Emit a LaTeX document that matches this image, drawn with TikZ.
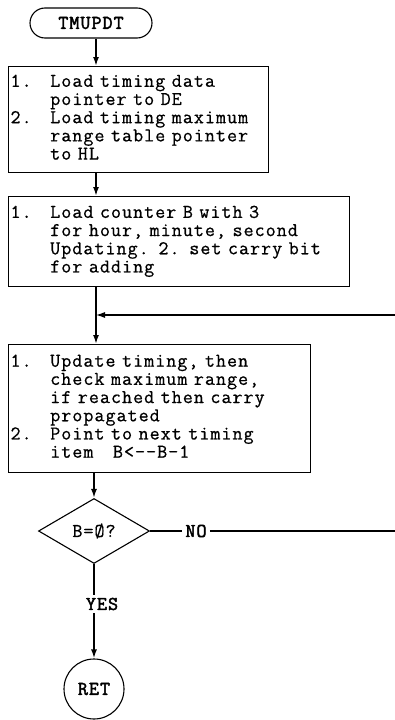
\documentclass[tikz,border=0pt]{standalone}
\usepackage{fontspec}
\newfontfamily\boxfont{Latin Modern Mono}[FakeBold=0.7, LetterSpace=5.2]
\newfontfamily\tagfont{Latin Modern Mono}[FakeBold=2.2, LetterSpace=5.2]
\usetikzlibrary{shapes.geometric,arrows.meta}

\begin{document}
\begin{tikzpicture}[x=1pt, y=1pt, >={Latex[length=9pt,width=6pt]},
  font=\boxfont\fontsize{19.5}{18.2}\selectfont,
  stepbox/.style={draw, line width=1.1pt, rectangle, anchor=north west,
    inner xsep=2pt, inner ysep=0pt, align=left},
  boldtag/.style={font=\tagfont\fontsize{19.5}{18.2}\selectfont},
  flow/.style={->, line width=1.7pt}]
  % Page frame: keeps the reference margins
  \useasboundingbox (0,0) rectangle (395,-720);
  % Entry terminal
  \node[draw, line width=1.1pt, rounded corners=15pt, minimum width=122pt,
    minimum height=30pt, boldtag] (tmupdt) at (91,-23) {TMUPDT};
  % Process boxes, numbered items hang in a two column tabular
  \node[stepbox, text width=256pt, minimum height=106pt] (load) at (8,-66) {%
    \begin{tabular}{@{}l@{\hspace{18.6pt}}l@{}}
      1. & Load timing data\\
         & pointer to DE\\
      2. & Load timing maximum\\
         & range table pointer\\
         & to HL
    \end{tabular}};
  \node[stepbox, text width=337pt, minimum height=90pt] (count) at (8,-196) {%
    \begin{tabular}{@{}l@{\hspace{18.6pt}}l@{}}
      1. & Load counter B with 3\\
         & for hour, minute, second\\
         & Updating. 2. set carry bit\\
         & for adding
    \end{tabular}};
  \node[stepbox, text width=298pt, minimum height=128pt] (update) at (8,-344) {%
    \begin{tabular}{@{}l@{\hspace{18.6pt}}l@{}}
      1. & Update timing, then\\
         & check maximum range,\\
         & if reached then carry\\
         & propagated\\
      2. & Point to next timing\\
         & item~~~B<-{}-B-1
    \end{tabular}};
  % Loop test and exit
  \node[draw, diamond, aspect=1.7, minimum width=111pt, minimum height=65pt,
    inner sep=0pt, line width=1.1pt] (test) at (94,-531) {B=Ø?};
  \node[draw, circle, minimum size=60pt, inner sep=0pt, line width=1.1pt,
    boldtag] (ret) at (94,-689) {RET};
  % Spine and loop-back ends (the return line leaves the page)
  \coordinate (merge) at (96,-315);
  \coordinate (loopin) at (395,-315);
  \coordinate (loopout) at (395,-531);
  \draw[flow] (tmupdt.south -| merge) -- (merge |- load.north);
  \draw[flow] (merge |- load.south) -- (merge |- count.north);
  \draw[line width=1.7pt] (merge |- count.south) -- (merge);
  \draw[flow] (merge) -- (merge |- update.north);
  \draw[->, line width=1.1pt] (loopin) -- (merge);
  \draw[flow] (test.north |- update.south) -- (test.north);
  % Branch labels sit on white over their lines
  \node[boldtag, fill=white, inner sep=3pt] (no) at (196,-531) {NO};
  \draw[line width=1.1pt] (test.east) -- (no.west);
  \draw[line width=1.1pt] (no.east) -- (loopout);
  \draw[flow] (test.south) -- (ret.north);
  \node[boldtag, fill=white, inner xsep=1pt, inner ysep=3pt] (yes) at (102,-604) {YES};
\end{tikzpicture}
\end{document}
